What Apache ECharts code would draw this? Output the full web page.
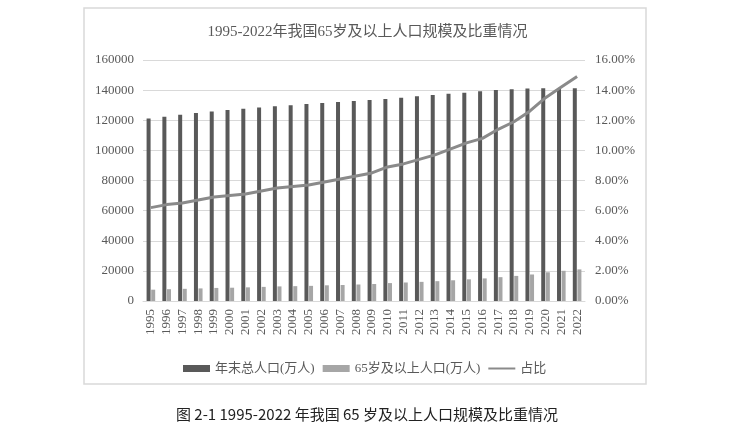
<!DOCTYPE html>
<html>
<head>
<meta charset="utf-8">
<script src="https://cdn.jsdelivr.net/npm/echarts@6/dist/echarts.min.js"></script>
<style>html,body{margin:0;padding:0;background:#fff;}#c{width:735px;height:436px;}</style>
</head>
<body>
<div id="c"></div>
<script>
var years = ['1995','1996','1997','1998','1999','2000','2001','2002','2003','2004','2005','2006','2007','2008','2009','2010','2011','2012','2013','2014','2015','2016','2017','2018','2019','2020','2021','2022'];
var totalPop = [121121,122389,123626,124761,125786,126743,127627,128453,129227,129988,130756,131448,132129,132802,133450,134091,134916,135922,136726,137646,138326,139232,140011,140541,141008,141212,141260,141175];
var oldPop = [7510,7833,8085,8359,8679,8821,9062,9377,9692,9857,10055,10419,10636,10956,11307,11894,12288,12714,13161,13755,14386,15003,15831,16658,17603,19064,20056,20978];
var ratio = [6.2,6.4,6.5,6.7,6.9,7.0,7.1,7.3,7.5,7.6,7.7,7.9,8.1,8.3,8.5,8.9,9.1,9.4,9.7,10.1,10.5,10.8,11.4,11.9,12.6,13.5,14.2,14.9];
var leftTicks = {min:0, max:160000, interval:20000};
var rightTicks = {min:0, max:16, interval:2};
var seriesNames = ['年末总人口(万人)','65岁及以上人口(万人)','占比'];
var titleText = '1995-2022年我国65岁及以上人口规模及比重情况';
var captionText = '图 2-1 1995-2022 年我国 65 岁及以上人口规模及比重情况';

var FONT = "'Liberation Serif','Noto Sans CJK SC',serif";
var chart = echarts.init(document.getElementById('c'));
chart.setOption({
  backgroundColor: '#fff',
  animation: false,
  title: {
    text: titleText, left: 'center', top: 20,
    textStyle: {fontFamily: FONT, fontSize: 15, fontWeight: 'normal', color: '#595959'}
  },
  legend: {
    data: [
      {name: seriesNames[0], icon: 'rect'},
      {name: seriesNames[1], icon: 'rect'},
      {name: seriesNames[2], icon: 'path://M0,0L0,0M0,2.5L27,2.5L27,4.5L0,4.5ZM27,7L27,7'}
    ],
    left: 178, top: 357,
    itemWidth: 27, itemHeight: 7, itemGap: 8,
    textStyle: {fontFamily: FONT, fontSize: 13, color: '#595959'}
  },
  grid: {left: 143, right: 150, top: 60, bottom: 135, containLabel: false},
  xAxis: {
    type: 'category', data: years, boundaryGap: true,
    axisLine: {lineStyle: {color: '#d9d9d9', width: 1}},
    axisTick: {show: false},
    axisLabel: {rotate: 90, interval: 0, margin: 8, fontFamily: FONT, fontSize: 13, color: '#595959'}
  },
  yAxis: [{
    type: 'value', min: leftTicks.min, max: leftTicks.max, interval: leftTicks.interval,
    axisLine: {show: false}, axisTick: {show: false},
    splitLine: {lineStyle: {color: '#d9d9d9', width: 1}},
    axisLabel: {margin: 9, fontFamily: FONT, fontSize: 13, color: '#595959',
      formatter: function(v){ return String(v); }}
  }, {
    type: 'value', min: rightTicks.min, max: rightTicks.max, interval: rightTicks.interval,
    axisLine: {show: false}, axisTick: {show: false}, splitLine: {show: false},
    axisLabel: {margin: 10, fontFamily: FONT, fontSize: 13, color: '#595959',
      formatter: function(v){ return v.toFixed(2) + '%'; }}
  }],
  series: [{
    name: seriesNames[0], type: 'bar', data: totalPop, barWidth: 4, barGap: '15%',
    itemStyle: {color: '#595959'}
  }, {
    name: seriesNames[1], type: 'bar', data: oldPop, barWidth: 4,
    itemStyle: {color: '#a6a6a6'}
  }, {
    name: seriesNames[2], type: 'line', yAxisIndex: 1, data: ratio,
    symbol: 'none', smooth: false,
    lineStyle: {color: '#8a8a8a', width: 3}, itemStyle: {color: '#8a8a8a'}
  }],
  graphic: [{
    type: 'rect', shape: {x: 84, y: 8, width: 562, height: 376},
    style: {fill: 'none', stroke: '#d9d9d9', lineWidth: 1.5}, silent: true
  }, {
    type: 'text', x: 367, y: 414,
    style: {text: captionText, textAlign: 'center', textVerticalAlign: 'middle',
      fontFamily: "'Noto Sans CJK SC','Liberation Sans',sans-serif", fontSize: 15, fill: '#222'}
  }]
});
</script>
</body>
</html>
